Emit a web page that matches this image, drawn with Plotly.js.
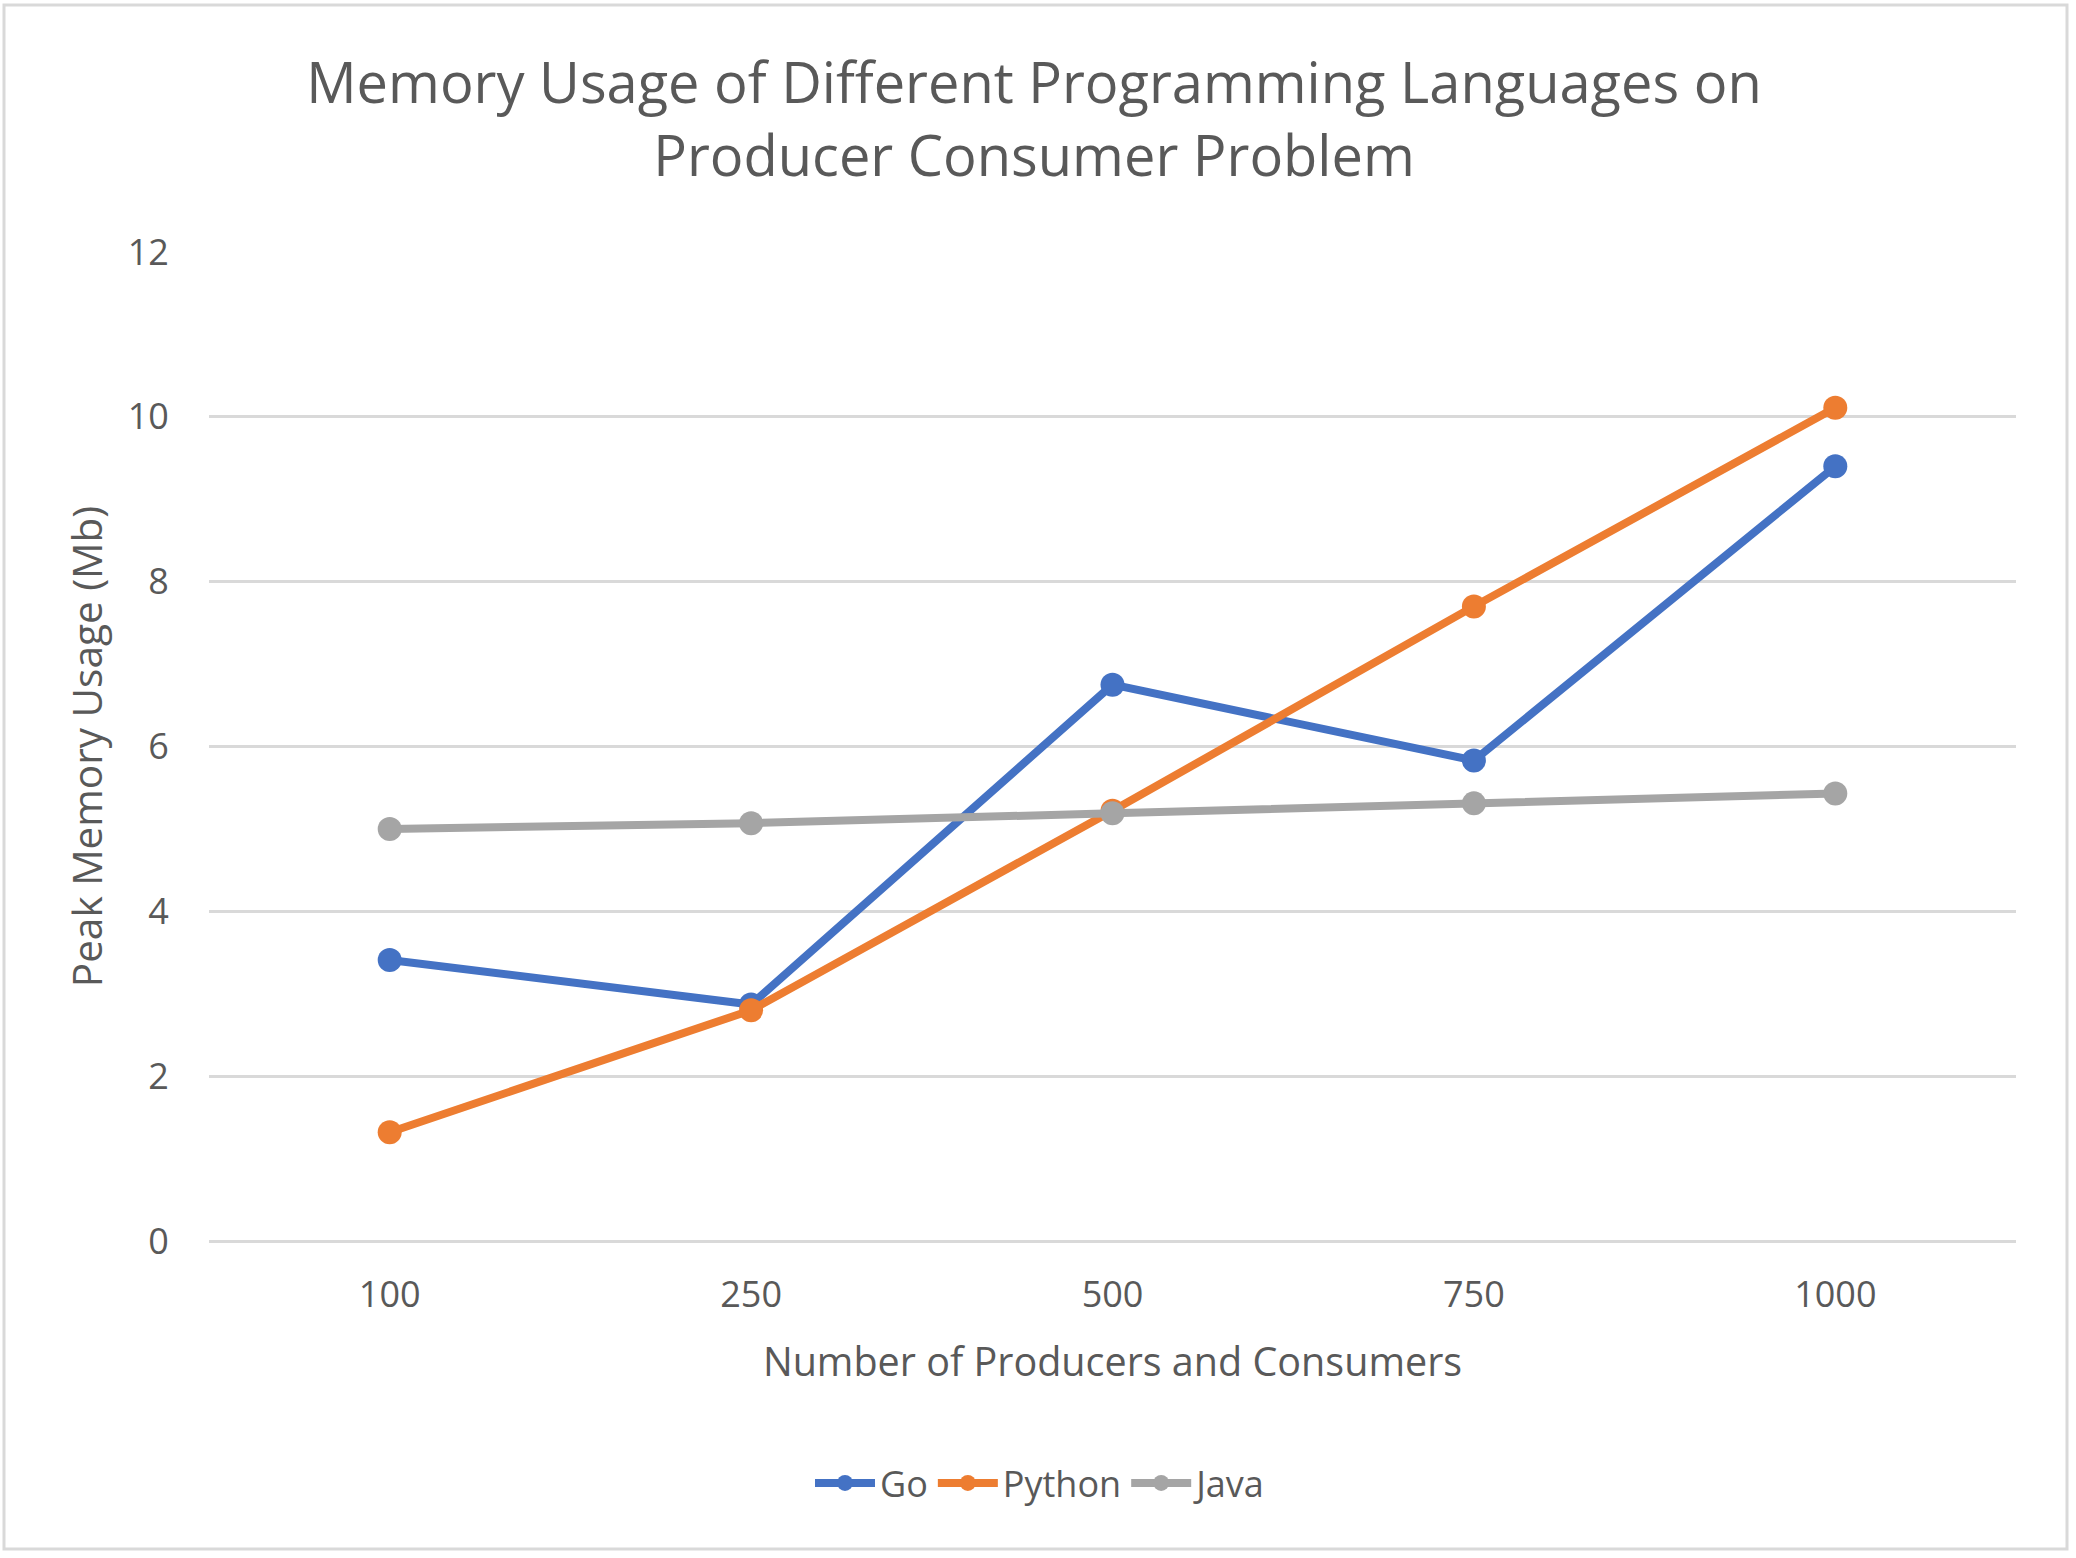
<!DOCTYPE html>
<html>
<head>
<meta charset="utf-8">
<script src="https://cdn.plot.ly/plotly-3.0.1.min.js"></script>
<style>
  html, body { margin: 0; padding: 0; background: #ffffff; }
  #chart { width: 2076px; height: 1558px; }
</style>
</head>
<body>
<div id="chart"></div>
<script>
// ---- Data ----
const categories = ["100", "250", "500", "750", "1000"];
const goValues = [3.41, 2.87, 6.75, 5.83, 9.40];
const pythonValues = [1.32, 2.80, 5.22, 7.70, 10.11];
const javaValues = [5.00, 5.07, 5.19, 5.31, 5.43];
const seriesNames = ["Go", "Python", "Java"];
const yTickValues = [0, 2, 4, 6, 8, 10, 12];

// ---- Styling ----
const colors = ["#4472C4", "#ED7D31", "#A5A5A5"];
const textColor = "#595959";
const gridColor = "#D9D9D9";
const fontFamily = "'Open Sans', 'Noto Sans', sans-serif";

const W = 2076, H = 1558;
const margin = { l: 209, r: 60, t: 252, b: 317, pad: 0 };
const plotW = W - margin.l - margin.r;
const plotH = H - margin.t - margin.b;

function px2paperX(px) { return (px - margin.l) / plotW; }
function px2paperY(py) { return 1 - (py - margin.t) / plotH; }

const allValues = [goValues, pythonValues, javaValues];
const traces = allValues.map((vals, i) => ({
  type: "scatter",
  mode: "lines+markers",
  name: seriesNames[i],
  x: categories,
  y: vals,
  line: { color: colors[i], width: 8 },
  marker: { color: colors[i], size: 24, line: { width: 0 } },
  hoverinfo: "x+y+name"
}));

const layout = {
  width: W,
  height: H,
  margin: margin,
  paper_bgcolor: "#ffffff",
  plot_bgcolor: "#ffffff",
  font: { family: fontFamily, color: textColor, size: 36 },
  title: {
    text: "Memory Usage of Different Programming Languages on<br>Producer Consumer Problem",
    font: { family: fontFamily, size: 56, color: textColor },
    xref: "container",
    x: 1034 / W,
    xanchor: "center",
    yref: "container",
    y: 1 - 103 / H,
    yanchor: "middle"
  },
  xaxis: {
    type: "category",
    range: [-0.5, 4.5],
    showgrid: false,
    zeroline: false,
    showline: false,
    ticks: "outside",
    ticklen: 22,
    tickcolor: "rgba(0,0,0,0)",
    tickfont: { family: fontFamily, size: 36, color: textColor },
    title: {
      text: "Number of Producers and Consumers",
      font: { family: fontFamily, size: 39.5, color: textColor },
      standoff: 31
    },
    fixedrange: true
  },
  yaxis: {
    range: [0, 12],
    tickvals: yTickValues,
    ticktext: yTickValues.map(String),
    showgrid: true,
    gridcolor: gridColor,
    gridwidth: 2.5,
    zeroline: true,
    zerolinecolor: gridColor,
    zerolinewidth: 2.5,
    showline: false,
    ticks: "outside",
    ticklen: 32,
    tickcolor: "rgba(0,0,0,0)",
    tickfont: { family: fontFamily, size: 36, color: textColor },
    title: {
      text: "Peak Memory Usage (Mb)",
      font: { family: fontFamily, size: 40.5, color: textColor },
      standoff: 12
    },
    fixedrange: true
  },
  showlegend: true,
  legend: {
    orientation: "h",
    xref: "container",
    yref: "container",
    x: 1041 / W,
    xanchor: "center",
    y: 1 - 1483 / H,
    yanchor: "middle",
    font: { family: fontFamily, size: 36, color: textColor },
    itemwidth: 60,
    tracegroupgap: 0,
    bgcolor: "rgba(0,0,0,0)"
  },
  shapes: [{
    type: "rect",
    xref: "paper",
    yref: "paper",
    x0: px2paperX(4),
    x1: px2paperX(2067),
    y0: px2paperY(1549),
    y1: px2paperY(5),
    line: { color: gridColor, width: 3 },
    fillcolor: "rgba(0,0,0,0)",
    layer: "below"
  }]
};

Plotly.newPlot("chart", traces, layout, { displayModeBar: false, staticPlot: false });
</script>
</body>
</html>
